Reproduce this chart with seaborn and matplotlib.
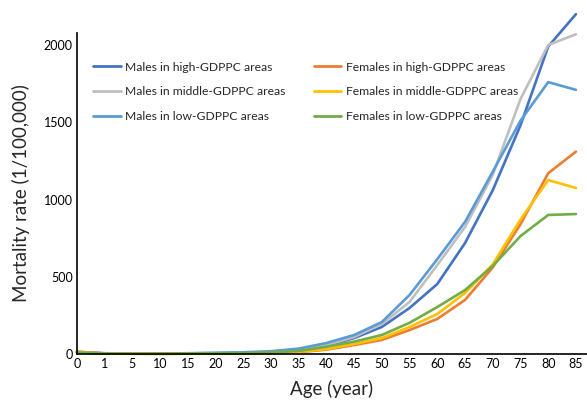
import numpy as np
import pandas as pd
import matplotlib
matplotlib.use("Agg")
import matplotlib.pyplot as plt
import seaborn as sns

ages = ["0", "1", "5", "10", "15", "20", "25", "30", "35", "40", "45", "50",
        "55", "60", "65", "70", "75", "80", "85"]

males_high = [12, 4, 2, 2, 4, 6, 8, 12, 25, 52, 103, 175, 298, 453, 718, 1060, 1480, 1990, 2200]
males_middle = [12, 4, 2, 2, 4, 6, 9, 14, 28, 58, 110, 194, 337, 576, 822, 1160, 1650, 2000, 2070]
males_low = [14, 5, 3, 3, 5, 7, 11, 18, 35, 71, 123, 207, 382, 614, 855, 1180, 1510, 1760, 1710]
females_high = [15, 3, 2, 1, 2, 3, 4, 6, 12, 28, 58, 91, 155, 227, 350, 560, 840, 1170, 1310]
females_middle = [12, 3, 2, 1, 2, 3, 4, 7, 14, 32, 65, 103, 175, 259, 395, 580, 870, 1126, 1075]
females_low = [10, 3, 2, 2, 3, 4, 6, 10, 20, 47, 80, 123, 202, 304, 414, 570, 763, 900, 906]

series_names = ["Males in high-GDPPC areas", "Males in middle-GDPPC areas",
                "Males in low-GDPPC areas", "Females in high-GDPPC areas",
                "Females in middle-GDPPC areas", "Females in low-GDPPC areas"]
series_values = [males_high, males_middle, males_low,
                 females_high, females_middle, females_low]
colors = ["#4472C4", "#BFBFBF", "#5B9BD5", "#ED7D31", "#FFC000", "#70AD47"]

rows = []
for name, vals in zip(series_names, series_values):
    for i, v in enumerate(vals):
        rows.append({"pos": i, "rate": v, "series": name})
df = pd.DataFrame(rows)

sns.set_theme(style="white")
plt.rcParams["font.family"] = ["Lato", "DejaVu Sans"]

fig = plt.figure(figsize=(5.87, 4.0), dpi=100)
ax = fig.add_axes([0.131, 0.115, 0.869, 0.8025])

sns.lineplot(data=df, x="pos", y="rate", hue="series", hue_order=series_names,
             palette=dict(zip(series_names, colors)), linewidth=1.9,
             sort=False, ax=ax, legend=True)
for ln in ax.lines:
    ln.set_clip_on(False)

ax.set_xlim(0, 18.4)
ax.set_ylim(0, 2078)
ax.set_xticks(range(len(ages)))
ax.set_xticklabels(ages)
ax.set_yticks([0, 500, 1000, 1500, 2000])
ax.tick_params(axis="both", direction="in", length=4, width=1, colors="black",
               labelsize=9, pad=3)
for s in ["top", "right"]:
    ax.spines[s].set_visible(False)
for s in ["left", "bottom"]:
    ax.spines[s].set_color("black")
    ax.spines[s].set_linewidth(1.2)

ax.set_xlabel("Age (year)", fontsize=13.5, labelpad=7)
ax.set_ylabel("Mortality rate (1/100,000)", fontsize=13.5, labelpad=10)

handles, labels = ax.get_legend_handles_labels()
leg = ax.legend(handles, labels, ncol=2, frameon=False, fontsize=8.7,
                loc="upper left", bbox_to_anchor=(0.01, 0.945),
                handlelength=2.3, handletextpad=0.4, columnspacing=2.3,
                labelspacing=1.15)
for h in leg.get_lines():
    h.set_linewidth(2.0)

fig.savefig("out.png", dpi=100)
